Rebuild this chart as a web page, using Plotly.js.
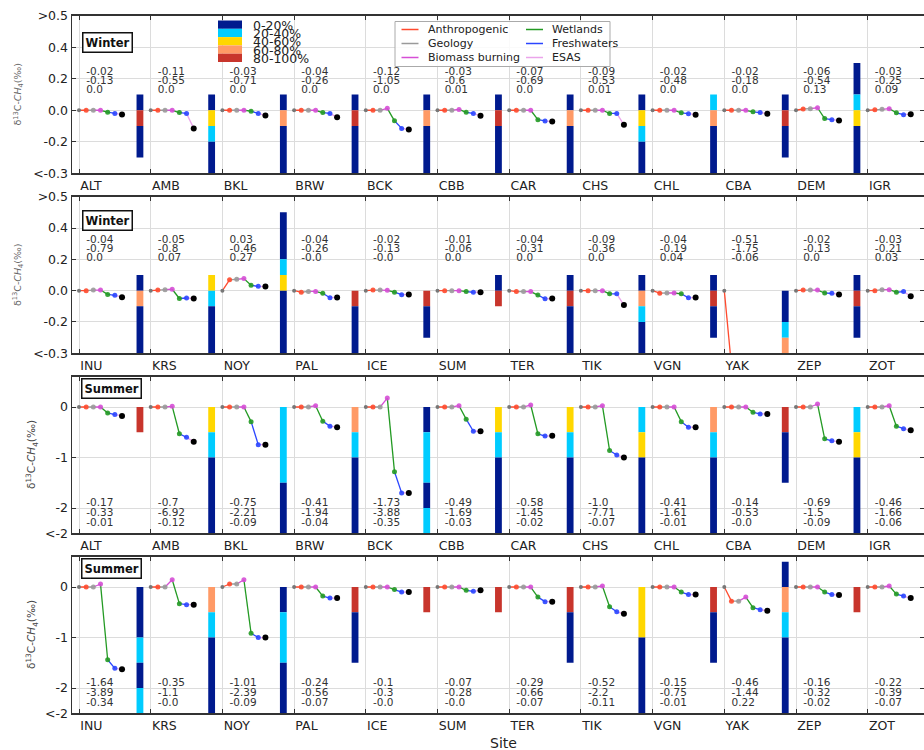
<!DOCTYPE html>
<html><head><meta charset="utf-8">
<script src="https://cdn.plot.ly/plotly-3.0.1.min.js"></script>
<style>html,body{margin:0;padding:0;background:#fff}</style>
</head><body><div id="chart" style="width:924px;height:750px"></div>
<script>
// ---------- DATA ----------
const sitesA = ['ALT','AMB','BKL','BRW','BCK','CBB','CAR','CHS','CHL','CBA','DEM','IGR'];
const sitesB = ['INU','KRS','NOY','PAL','ICE','SUM','TER','TIK','VGN','YAK','ZEP','ZOT'];
const sources = ['Anthropogenic','Geology','Biomass burning','Wetlands','Freshwaters','ESAS'];
const sourceColors = ['#FF4A2E','#9A9A9A','#D64FD6','#239A23','#2A45FF','#EBA4EB'];
const classLabels = ['0-20%','20-40%','40-60%','60-80%','80-100%'];
const classColors = ['#001A8E','#00CCFF','#FFD700','#FF9A66','#C8352C'];

// cumulative δ13C-CH4 change: start, +Anthropogenic, +Geology, +Biomass burning, +Wetlands, +Freshwaters, +ESAS
const winterA = [
  [0,0,0,0,-0.012,-0.02,-0.027],
  [0,0,0,0,-0.015,-0.02,-0.115],
  [0,0,0,0,-0.006,-0.02,-0.033],
  [0,0,0,0,-0.015,-0.02,-0.045],
  [0,0,0,0.012,-0.067,-0.115,-0.122],
  [0,0,0,0.005,-0.013,-0.02,-0.035],
  [0,0,0,0,-0.06,-0.068,-0.072],
  [0,0,0,0,-0.02,-0.02,-0.092],
  [0,0,0,0,-0.016,-0.022,-0.028],
  [0,0,0,0,-0.01,-0.015,-0.022],
  [0,0.008,0.01,0.016,-0.053,-0.06,-0.065],
  [0,0.003,0.006,0.01,-0.016,-0.028,-0.025]
];
const winterB = [
  [0,0,0.004,0.004,-0.024,-0.03,-0.042],
  [0,0.004,0.006,0.009,-0.05,-0.047,-0.05],
  [0,0.069,0.073,0.077,0.034,0.028,0.026],
  [0,-0.01,-0.005,-0.005,-0.017,-0.045,-0.043],
  [0,0.004,0.004,0.002,-0.01,-0.026,-0.024],
  [0,0,0,0,-0.006,-0.01,-0.01],
  [0,-0.006,-0.006,-0.006,-0.028,-0.052,-0.05],
  [0,0,0,0,-0.02,-0.02,-0.092],
  [0,-0.016,-0.015,-0.015,-0.02,-0.046,-0.043],
  [0,-0.48,-0.48,-0.49,-0.5,-0.5,-0.51],
  [0,0.004,0.004,0.004,-0.015,-0.017,-0.024],
  [0,0,0.006,0.006,-0.01,-0.006,-0.036]
];
const summerA = [
  [0,0,0,0,-0.118,-0.15,-0.176],
  [0,0,0,0.013,-0.53,-0.6,-0.69],
  [0,0,0,0,-0.29,-0.745,-0.745],
  [0,0,0,0.026,-0.28,-0.38,-0.4],
  [0,0,0,0.176,-1.28,-1.7,-1.7],
  [0,0,0,0.026,-0.24,-0.48,-0.48],
  [0,0,0,0.04,-0.53,-0.575,-0.57],
  [0,0,0,0.026,-0.86,-0.95,-1.0],
  [0,0,0,0,-0.29,-0.4,-0.4],
  [0,0,0,0,-0.105,-0.137,-0.137],
  [0,0,0,0.06,-0.63,-0.67,-0.69],
  [0,0,0,0.026,-0.38,-0.43,-0.46]
];
const summerB = [
  [0,0,0,0.06,-1.44,-1.61,-1.63],
  [0,0,0,0.144,-0.33,-0.35,-0.35],
  [0,0.06,0.06,0.144,-0.915,-1.0,-1.0],
  [0,0,0,0,-0.18,-0.22,-0.22],
  [0,0,0,0,-0.05,-0.1,-0.1],
  [0,0,0,0,-0.065,-0.085,-0.065],
  [0,0,0,0,-0.2,-0.29,-0.29],
  [0,0,0,0.02,-0.39,-0.49,-0.53],
  [0,0,0,0,-0.1,-0.15,-0.15],
  [0,-0.28,-0.28,-0.2,-0.41,-0.45,-0.47],
  [0,0,0,0,-0.1,-0.15,-0.16],
  [0,0,0,0.02,-0.14,-0.18,-0.22]
];

// three numbers printed for each site
const winterAText = [['-0.02','-0.13','0.0'],['-0.11','-0.55','0.0'],['-0.03','-0.71','0.0'],['-0.04','-0.26','0.0'],['-0.12','-1.05','0.0'],['-0.03','-0.6','0.01'],['-0.07','-0.69','0.0'],['-0.09','-0.53','0.01'],['-0.02','-0.48','0.0'],['-0.02','-0.18','0.0'],['-0.06','-0.54','0.13'],['-0.03','-0.25','0.09']];
const winterBText = [['-0.04','-0.79','0.0'],['-0.05','-0.8','0.07'],['0.03','-0.46','0.27'],['-0.04','-0.26','-0.0'],['-0.02','-0.13','-0.0'],['-0.01','-0.06','0.0'],['-0.04','-0.31','0.0'],['-0.09','-0.36','0.0'],['-0.04','-0.19','0.04'],['-0.51','-1.75','-0.06'],['-0.02','-0.13','0.0'],['-0.03','-0.21','0.03']];
const summerAText = [['-0.17','-0.33','-0.01'],['-0.7','-6.92','-0.12'],['-0.75','-2.21','-0.09'],['-0.41','-1.94','-0.04'],['-1.73','-3.88','-0.35'],['-0.49','-1.69','-0.03'],['-0.58','-1.45','-0.02'],['-1.0','-7.71','-0.07'],['-0.41','-1.61','-0.01'],['-0.14','-0.53','-0.0'],['-0.69','-1.5','-0.09'],['-0.46','-1.66','-0.06']];
const summerBText = [['-1.64','-3.89','-0.34'],['-0.35','-1.1','-0.0'],['-1.01','-2.39','-0.09'],['-0.24','-0.56','-0.07'],['-0.1','-0.3','-0.0'],['-0.07','-0.28','-0.0'],['-0.29','-0.66','-0.07'],['-0.52','-2.2','-0.11'],['-0.15','-0.75','-0.01'],['-0.46','-1.44','0.22'],['-0.16','-0.32','-0.02'],['-0.22','-0.39','-0.07']];

// percentage-class bands: [site index, top, bottom, class index]
const winterABars = [
  [0,0.1,0,0],[0,0,-0.1,4],[0,-0.1,-0.3,0],
  [1,0.1,0,0],[1,0,-0.1,2],[1,-0.1,-0.2,1],[1,-0.2,-0.4,0],
  [2,0.1,0,0],[2,0,-0.1,3],[2,-0.1,-0.4,0],
  [3,0.1,0,0],[3,0,-0.1,4],[3,-0.1,-0.4,0],
  [4,0.1,0,0],[4,0,-0.1,3],[4,-0.1,-0.4,0],
  [5,0.1,0,0],[5,0,-0.1,4],[5,-0.1,-0.4,0],
  [6,0.1,0,0],[6,0,-0.1,3],[6,-0.1,-0.4,0],
  [7,0.1,0,0],[7,0,-0.1,2],[7,-0.1,-0.2,1],[7,-0.2,-0.4,0],
  [8,0.1,0,1],[8,0,-0.1,3],[8,-0.1,-0.4,0],
  [9,0.1,0,0],[9,0,-0.1,4],[9,-0.1,-0.3,0],
  [10,0.3,0.1,0],[10,0.1,0,1],[10,0,-0.1,2],[10,-0.1,-0.4,0]
];
const winterBBars = [
  [0,0.1,0,0],[0,0,-0.1,3],[0,-0.1,-0.4,0],
  [1,0.1,0,2],[1,0,-0.1,1],[1,-0.1,-0.4,0],
  [2,0.5,0.2,0],[2,0.2,0.1,1],[2,0.1,0,2],[2,0,-0.4,0],
  [3,0,-0.1,4],[3,-0.1,-0.4,0],
  [4,0,-0.1,4],[4,-0.1,-0.3,0],
  [5,0.1,0,0],[5,0,-0.1,4],
  [6,0.1,0,0],[6,0,-0.1,4],[6,-0.1,-0.4,0],
  [7,0.1,0,0],[7,0,-0.1,3],[7,-0.1,-0.2,1],[7,-0.2,-0.4,0],
  [8,0.1,0,0],[8,0,-0.1,4],[8,-0.1,-0.3,0],
  [9,0,-0.2,0],[9,-0.2,-0.3,1],[9,-0.3,-0.4,3],
  [10,0.1,0,0],[10,0,-0.1,4],[10,-0.1,-0.3,0]
];
const summerABars = [
  [0,0,-0.5,4],
  [1,0,-0.5,2],[1,-0.5,-1,1],[1,-1,-2.5,0],
  [2,0,-1.5,1],[2,-1.5,-2.5,0],
  [3,0,-0.5,3],[3,-0.5,-1,1],[3,-1,-2.5,0],
  [4,0,-0.5,0],[4,-0.5,-1.5,1],[4,-1.5,-2,0],[4,-2,-2.5,1],
  [5,0,-0.5,2],[5,-0.5,-1,1],[5,-1,-2.5,0],
  [6,0,-0.5,2],[6,-0.5,-1,1],[6,-1,-2.5,0],
  [7,0,-0.5,1],[7,-0.5,-1,2],[7,-1,-2.5,0],
  [8,0,-0.5,3],[8,-0.5,-1,1],[8,-1,-2.5,0],
  [9,0,-0.5,4],[9,-0.5,-1.5,0],
  [10,0,-0.5,1],[10,-0.5,-1,2],[10,-1,-2.5,0]
];
const summerBBars = [
  [0,0,-1,0],[0,-1,-1.5,1],[0,-1.5,-2,0],[0,-2,-2.5,1],
  [1,0,-0.5,3],[1,-0.5,-1,1],[1,-1,-2.5,0],
  [2,0,-0.5,0],[2,-0.5,-1.5,1],[2,-1.5,-2.5,0],
  [3,0,-0.5,4],[3,-0.5,-1.5,0],
  [4,0,-0.5,4],
  [5,0,-0.5,4],
  [6,0,-0.5,4],[6,-0.5,-1.5,0],
  [7,0,-1,2],[7,-1,-2.5,0],
  [8,0,-0.5,4],[8,-0.5,-1.5,0],
  [9,0.5,0,0],[9,0,-0.5,3],[9,-0.5,-1,1],[9,-1,-2.5,0],
  [10,0,-0.5,4]
];

const winterTicks = [-0.4,-0.2,0,0.2,0.4,0.6];
const winterTickText = ['<-0.3','-0.2','0.0','0.2','0.4','>0.5'];
const summerTicks = [-2.5,-2,-1,0];
const summerTickText = ['<-2','-2','-1','0'];

// ---------- BUILD ----------
const W = 924, H = 750;
const FONT = 'DejaVu Sans, Liberation Sans, sans-serif';
const panels = [
  {sites:sitesA, cum:winterA, txt:winterAText, bars:winterABars, season:'Winter', top:15.7, bot:173.3, range:[-0.4,0.6], tv:winterTicks, tt:winterTickText, textY:[0.243,0.184,0.124], box:[107,42], ytx:18},
  {sites:sitesB, cum:winterB, txt:winterBText, bars:winterBBars, season:'Winter', top:196.7, bot:353.3, range:[-0.4,0.6], tv:winterTicks, tt:winterTickText, textY:[0.322,0.262,0.204], box:[107,221], ytx:18},
  {sites:sitesA, cum:summerA, txt:summerAText, bars:summerABars, season:'Summer', top:376.7, bot:533.3, range:[-2.5,0.6], tv:summerTicks, tt:summerTickText, textY:[-1.915,-2.113,-2.311], box:[111.5,388.5], ytx:32},
  {sites:sitesB, cum:summerB, txt:summerBText, bars:summerBBars, season:'Summer', top:556.7, bot:713.3, range:[-2.5,0.6], tv:summerTicks, tt:summerTickText, textY:[-1.915,-2.113,-2.311], box:[111.5,568.5], ytx:32}
];

const traces = [];
const layout = {
  width: W, height: H,
  margin: {l:0, r:0, t:0, b:0},
  paper_bgcolor: '#fff', plot_bgcolor: '#fff',
  showlegend: false,
  barmode: 'overlay',
  font: {family: FONT, color: '#222'},
  annotations: [], shapes: []
};

const xRange = [-7/71.7, 845/71.7];
panels.forEach((p, pi) => {
  const n = pi + 1;
  const xa = 'x' + (n === 1 ? '' : n), ya = 'y' + (n === 1 ? '' : n);
  const nSites = p.sites.length;

  // bars
  traces.push({
    type: 'bar', xaxis: xa, yaxis: ya,
    x: p.bars.map(b => b[0] + 0.85),
    base: p.bars.map(b => b[2]),
    y: p.bars.map(b => b[1] - b[2]),
    width: 0.095,
    marker: {color: p.bars.map(b => classColors[b[3]]), line: {width: 0}},
    hoverinfo: 'skip'
  });

  // line segments per source
  for (let k = 1; k <= 6; k++) {
    const xs = [], ys = [];
    for (let i = 0; i < nSites; i++) {
      xs.push(i + (k - 1) * 0.1, i + k * 0.1, null);
      ys.push(p.cum[i][k - 1], p.cum[i][k], null);
    }
    traces.push({type:'scatter', mode:'lines', xaxis:xa, yaxis:ya, x:xs, y:ys,
      line:{color:sourceColors[k-1], width:1.3}, hoverinfo:'skip'});
  }
  // markers
  traces.push({type:'scatter', mode:'markers', xaxis:xa, yaxis:ya,
    x: p.cum.map((c,i)=>i), y: p.cum.map(c=>c[0]),
    marker:{color:'#777', size:4}, hoverinfo:'skip'});
  for (let k = 1; k <= 5; k++) {
    traces.push({type:'scatter', mode:'markers', xaxis:xa, yaxis:ya,
      x: p.cum.map((c,i)=>i + k*0.1), y: p.cum.map(c=>c[k]),
      marker:{color:sourceColors[k-1], size:5, opacity:0.9}, hoverinfo:'skip'});
  }
  traces.push({type:'scatter', mode:'markers', xaxis:xa, yaxis:ya,
    x: p.cum.map((c,i)=>i + 0.6), y: p.cum.map(c=>c[6]),
    marker:{color:'#000', size:6}, hoverinfo:'skip'});

  // stats text
  for (let r = 0; r < 3; r++) {
    traces.push({type:'scatter', mode:'text', xaxis:xa, yaxis:ya,
      x: p.txt.map((t,i)=>i + 0.1), y: p.txt.map(()=>p.textY[r]),
      text: p.txt.map(t=>t[r]), textposition:'middle right',
      textfont:{family:FONT, size:10.5, color:'#333'}, hoverinfo:'skip', cliponaxis:false});
  }

  layout['xaxis' + (n === 1 ? '' : n)] = {
    domain:[72/W, 1], anchor: ya, range: xRange,
    tickmode:'array', tickvals: p.sites.map((s,i)=>i), ticktext: p.sites,
    ticks:'inside', ticklen:4, tickcolor:'#333',
    showgrid:true, gridcolor:'#dcdcdc', gridwidth:1,
    showline:true, linecolor:'#333', linewidth:1.5, mirror:'ticks',
    zeroline:false, ticklabelposition:'outside right',
    tickfont:{family:FONT, size:12.5, color:'#222'}, automargin:false
  };
  layout['yaxis' + (n === 1 ? '' : n)] = {
    domain:[1 - p.bot/H, 1 - p.top/H], anchor: xa, range: p.range,
    tickmode:'array', tickvals: p.tv, ticktext: p.tt,
    ticks:'inside', ticklen:4, tickcolor:'#333',
    showgrid:true, gridcolor:'#dcdcdc', gridwidth:1,
    showline:true, linecolor:'#333', linewidth:1.5, mirror:'ticks',
    zeroline:false, tickfont:{family:FONT, size:12.5, color:'#222'}, automargin:false
  };

  // season box
  layout.annotations.push({xref:'paper', yref:'paper', x:p.box[0]/W, y:1-p.box[1]/H,
    xanchor:'center', yanchor:'middle',
    text:'<b>'+p.season+'</b>', showarrow:false, font:{family:FONT, size:11.5, color:'#111'},
    bgcolor:'#fff', bordercolor:'#111', borderwidth:1.5, borderpad:2});
  // y title
  layout.annotations.push({xref:'paper', yref:'paper', x:p.ytx/W, y:1-(p.top+p.bot)/2/H,
    xanchor:'center', yanchor:'middle',
    text:'δ<sup>13</sup>C-<i>CH</i><sub>4</sub>(‰)', textangle:-90, showarrow:false,
    font:{family:FONT, size:pi<2?9.5:10.5, color:pi<2?'#666':'#444'}});
});

// x title
layout.annotations.push({xref:'paper', yref:'paper', x:503/W, y:1-743/H, text:'Site',
  xanchor:'center', yanchor:'middle',
  showarrow:false, font:{family:FONT, size:14, color:'#222'}});

// class legend (top-left inside first panel)
const rowH = 8.3, legTop = 20.5;
classLabels.forEach((lab, c) => {
  const y0 = legTop + c*rowH, y1 = y0 + rowH;
  layout.shapes.push({type:'rect', xref:'paper', yref:'paper', layer:'above',
    x0:218/W, x1:242/W, y0:1-y1/H, y1:1-y0/H, fillcolor:classColors[c], line:{width:0}});
  layout.annotations.push({xref:'paper', yref:'paper', x:251/W, y:1-(y0+rowH/2+0.5)/H,
    xanchor:'left', yanchor:'middle', text:lab, showarrow:false,
    font:{family:FONT, size:12.5, color:'#222'}});
});

// source legend box
layout.shapes.push({type:'rect', xref:'paper', yref:'paper', layer:'above',
  x0:395/W, x1:610/W, y0:1-66.5/H, y1:1-21.5/H,
  fillcolor:'rgba(255,255,255,0.85)', line:{color:'#aaa', width:1}});
sources.forEach((s, k) => {
  const col = Math.floor(k/3), row = k % 3;
  const lx0 = col ? 526 : 401.5, tx = col ? 550 : 426;
  const yy = 29.5 + row*14;
  layout.shapes.push({type:'line', xref:'paper', yref:'paper', layer:'above',
    x0:lx0/W, x1:(lx0+17)/W, y0:1-yy/H, y1:1-yy/H, line:{color:sourceColors[k], width:1.5}});
  layout.annotations.push({xref:'paper', yref:'paper', x:tx/W, y:1-yy/H,
    xanchor:'left', yanchor:'middle', text:s, showarrow:false,
    font:{family:FONT, size:11, color:'#222'}});
});

Plotly.newPlot('chart', traces, layout, {displayModeBar:false, staticPlot:true});
</script>
</body></html>
